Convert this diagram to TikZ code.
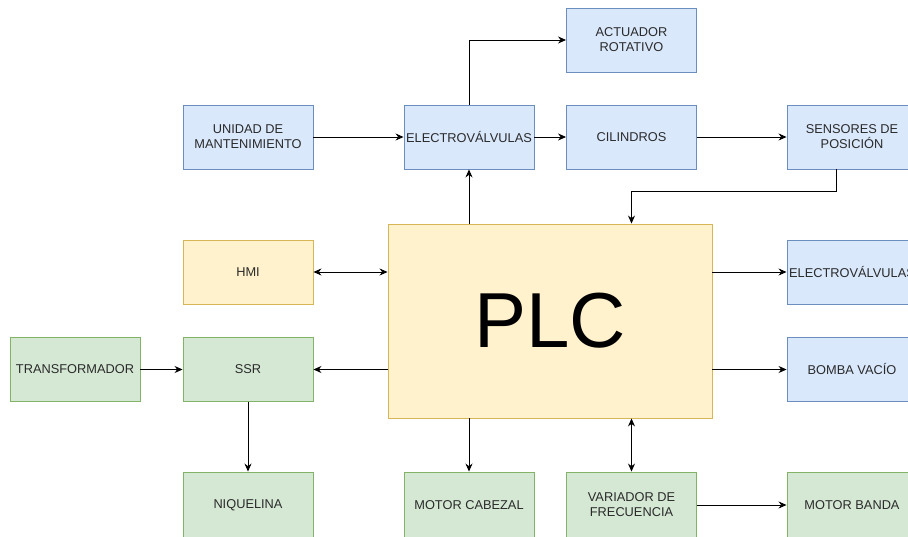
\documentclass[tikz,border=0pt]{standalone}
\usepackage{fontspec}
\setmainfont{Liberation Sans}
\usetikzlibrary{arrows.meta,calc}
\definecolor{bfill}{HTML}{DAE8FC}\definecolor{bdraw}{HTML}{6C8EBF}
\definecolor{yfill}{HTML}{FFF2CC}\definecolor{ydraw}{HTML}{D6B656}
\definecolor{gfill}{HTML}{D5E8D4}\definecolor{gdraw}{HTML}{82B366}
\definecolor{txt}{HTML}{2A2A2A}
\tikzset{
  box/.style={rectangle, line width=0.9pt, minimum width=130pt, minimum height=64pt, inner sep=0pt, align=center, text=txt, font=\fontsize{12.8}{15}\selectfont},
  bluebox/.style={box, fill=bfill, draw=bdraw},
  yelbox/.style={box, fill=yfill, draw=ydraw},
  grnbox/.style={box, fill=gfill, draw=gdraw},
  arr/.style={line width=0.9pt, -{Stealth[length=8pt,width=7pt]}},
  darr/.style={line width=0.9pt, {Stealth[length=8pt,width=7pt]}-{Stealth[length=8pt,width=7pt]}}
}
\begin{document}
\begin{tikzpicture}[x=1pt,y=-1pt]
\useasboundingbox (0,0) rectangle (908,537);
\clip (0,0) rectangle (908,537);
\node[bluebox] (act) at (631.5,40) {ACTUADOR\\ROTATIVO};
\node[bluebox] (udm) at (248,137) {UNIDAD DE\\MANTENIMIENTO};
\node[bluebox] (ev) at (469,137) {ELECTROVÁLVULAS};
\node[bluebox] (cil) at (631.5,137) {CILINDROS};
\node[bluebox] (sen) at (852,137) {SENSORES DE\\POSICIÓN};
\node[yelbox] (hmi) at (248,272) {HMI};
\node[yelbox, minimum width=324pt, minimum height=194pt, font=\fontsize{78}{80}\selectfont, text=black] (plc) at (550,321) {PLC};
\node[bluebox] (ev2) at (852,272) {ELECTROVÁLVULAS};
\node[grnbox] (tra) at (75,369.5) {TRANSFORMADOR};
\node[grnbox] (ssr) at (248,369.5) {SSR};
\node[bluebox] (bom) at (852,369.5) {BOMBA VACÍO};
\node[grnbox, minimum height=66pt] (niq) at (248,505) {NIQUELINA};
\node[grnbox, minimum height=66pt] (mc) at (469,505) {MOTOR CABEZAL};
\node[grnbox, minimum height=66pt] (var) at (631.5,505) {VARIADOR DE\\FRECUENCIA};
\node[grnbox, minimum height=66pt] (mb) at (852,505) {MOTOR BANDA};
\coordinate (sx) at (836,169);
\coordinate (sy) at (631.5,191);
% connectors
\draw[arr] (udm) -- (ev);
\draw[arr] (ev) -- (cil);
\draw[arr] (cil) -- (sen);
\draw[arr] (ev.north) |- (act.west);
\draw[arr] (ev.south |- plc.north) -- (ev.south);
\draw[arr] (sx) |- (sy) -- (sy |- plc.north);
\draw[darr] (hmi.east) -- (hmi.east -| plc.west);
\draw[arr] (ssr.east -| plc.west) -- (ssr.east);
\draw[arr] (tra) -- (ssr);
\draw[arr] (ssr) -- (niq);
\draw[arr] (ev2.west -| plc.east) -- (ev2.west);
\draw[arr] (bom.west -| plc.east) -- (bom.west);
\draw[arr] (mc.north |- plc.south) -- (mc.north);
\draw[darr] (var.north |- plc.south) -- (var.north);
\draw[arr] (var) -- (mb);
\end{tikzpicture}
\end{document}
